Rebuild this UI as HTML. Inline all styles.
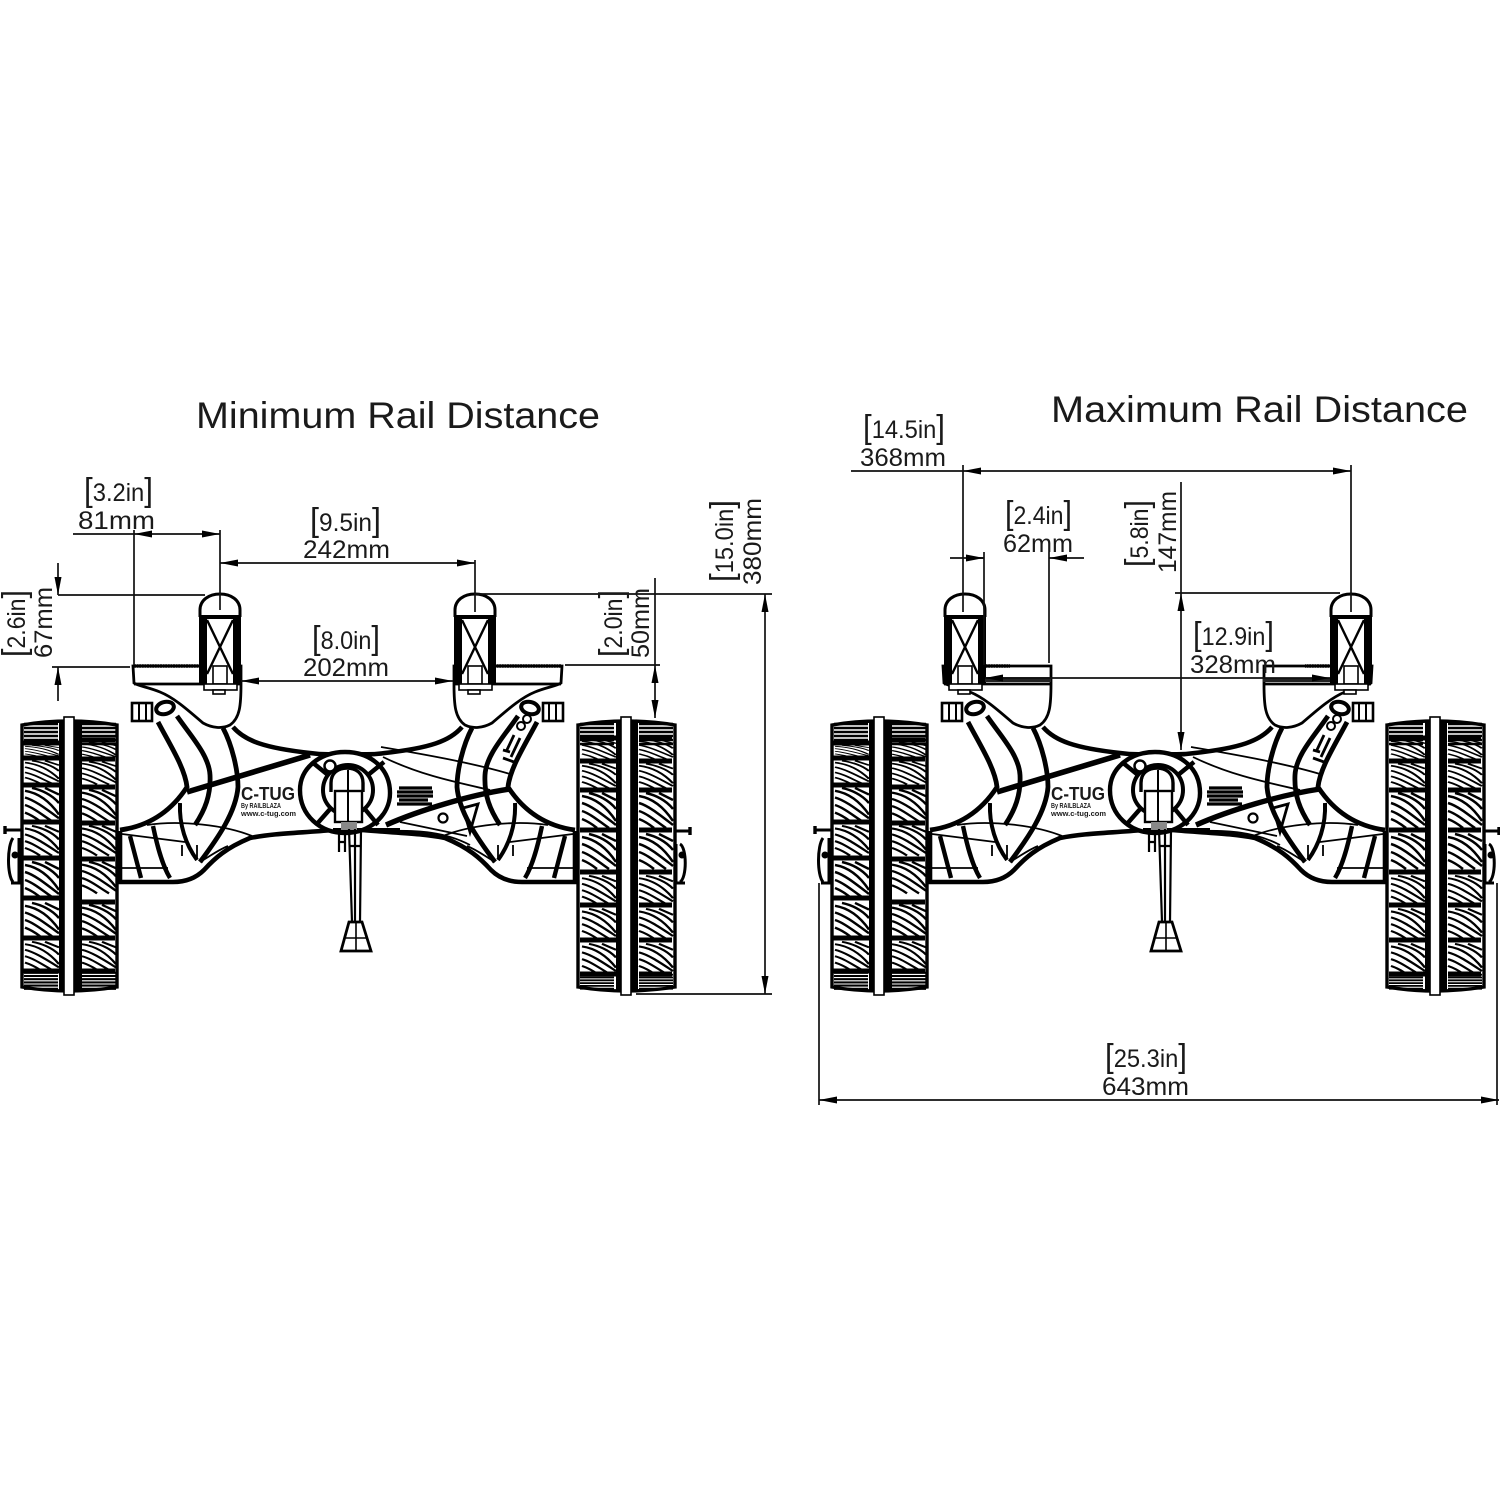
<!DOCTYPE html>
<html>
<head>
<meta charset="utf-8">
<style>
html,body{margin:0;padding:0;background:#fff}
svg{display:block}
text{font-family:"Liberation Sans",sans-serif;fill:#1a1a1a}
.d{font-size:25px}
.b{font-size:33px}
.t{font-size:37px}
.l{stroke:#111;stroke-width:1.7;fill:none}
</style>
</head>
<body>
<svg width="1500" height="1500" viewBox="0 0 1500 1500" xmlns="http://www.w3.org/2000/svg">
<defs>
<marker id="a" markerWidth="18" markerHeight="8" refX="18" refY="4" orient="auto-start-reverse" markerUnits="userSpaceOnUse"><path d="M0 .5L18 4L0 7.5z" fill="#000"/></marker>

<g id="row" fill="none" stroke="#000" stroke-width="2.5">
<path d="M0 4C12 6 24 14 34 29M0 11C10 14 21 23 34 33M0 19C9 22 18 30 27 36M0 27C5 29 10 32 15 36M7 1C16 3 27 8 34 17M20 1L34 8"/>
</g>

<g id="dark" fill="none" stroke="#000" stroke-width="2.6">
<path d="M0 1H34M0 5H34M0 9H34M0 13H34M0 17H34M0 21H34"/>
</g>

<g id="wl">
<path d="M-47 725Q0 717 48 725V987Q0 995-47 987Z" fill="#fff" stroke="#000" stroke-width="3.4"/>
<use href="#dark" transform="translate(-45,723)"/><use href="#dark" transform="translate(13,723)"/>
<use href="#row" transform="translate(-44,745) scale(1,.33)"/><use href="#row" transform="translate(13,742) scale(1,.45)"/>
<use href="#row" transform="translate(-44,760) scale(1,.65)"/><use href="#row" transform="translate(13,761) scale(1,.65)"/>
<use href="#row" transform="translate(-44,787) scale(1,.95)"/><use href="#row" transform="translate(13,789) scale(1,.9)"/>
<use href="#row" transform="translate(-44,825) scale(1,.85)"/><use href="#row" transform="translate(13,825) scale(1,.85)"/>
<use href="#row" transform="translate(-44,861) scale(1,1)"/><use href="#row" transform="translate(13,861) scale(1,.9)"/>
<use href="#row" transform="translate(-44,902) scale(1,.95)"/><use href="#row" transform="translate(13,904) scale(1,.9)"/>
<use href="#row" transform="translate(-44,941) scale(1,.8)"/><use href="#row" transform="translate(13,941) scale(1,.8)"/>
<use href="#dark" transform="translate(-45,972) scale(1,.8)"/><use href="#dark" transform="translate(13,972) scale(1,.8)"/>
<path d="M-46 743H-10M-46 758H-10M-46 785H-10M-46 822H-10M-46 858H-10M-46 898H-10M-46 938H-10M-46 971H-10M13 740H46M13 759H46M13 787H46M13 823H46M13 859H46M13 902H46M13 938H46M13 971H46" stroke="#000" stroke-width="5" fill="none"/>
<rect x="-10" y="722" width="23" height="270" fill="#000"/>
<rect x="-5" y="717" width="10" height="278" fill="#fff" stroke="#000" stroke-width="1.6"/>
<path d="M-64 830H-47M-56 838C-62 846-62 875-56 882M-50 838V883H-58" fill="none" stroke="#000" stroke-width="3"/>
<circle cx="-54" cy="855" r="3.5" fill="#000"/>
<path d="M-64 826V834" stroke="#000" stroke-width="3.4"/>
</g>

<g id="wr">
<path d="M-48 725Q0 717 49 725V987Q0 995-48 987Z" fill="#fff" stroke="#000" stroke-width="3.4"/>
<use href="#dark" transform="translate(-46,723)"/><use href="#dark" transform="translate(13,723)"/>
<use href="#row" transform="translate(-44,739) scale(1,.55)"/><use href="#row" transform="translate(13,739) scale(1,.55)"/>
<use href="#row" transform="translate(-44,763) scale(1,.7)"/><use href="#row" transform="translate(13,763) scale(1,.7)"/>
<use href="#row" transform="translate(-44,792) scale(1,1)"/><use href="#row" transform="translate(13,792) scale(1,1)"/>
<use href="#row" transform="translate(-44,833) scale(1,1)"/><use href="#row" transform="translate(13,833) scale(1,1)"/>
<use href="#row" transform="translate(-44,875) scale(1,.8)"/><use href="#row" transform="translate(13,875) scale(1,.8)"/>
<use href="#row" transform="translate(-44,908) scale(1,.85)"/><use href="#row" transform="translate(13,908) scale(1,.85)"/>
<use href="#row" transform="translate(-44,943) scale(1,.85)"/><use href="#row" transform="translate(13,943) scale(1,.85)"/>
<use href="#dark" transform="translate(-46,974) scale(1,.7)"/><use href="#dark" transform="translate(13,974) scale(1,.7)"/>
<path d="M-46 738H-10M-46 761H-10M-46 790H-10M-46 830H-10M-46 872H-10M-46 905H-10M-46 940H-10M-46 974H-10M13 738H46M13 761H46M13 790H46M13 830H46M13 872H46M13 905H46M13 940H46M13 974H46" stroke="#000" stroke-width="5" fill="none"/>
<rect x="-10" y="722" width="22" height="270" fill="#000"/>
<rect x="-5" y="717" width="10" height="278" fill="#fff" stroke="#000" stroke-width="1.6"/>
<path d="M48 831H64M54 844C61 848 61 878 54 882M50 844V883H59" fill="none" stroke="#000" stroke-width="3"/>
<circle cx="56" cy="855" r="3.5" fill="#000"/>
<path d="M64 827V835" stroke="#000" stroke-width="3.4"/>
</g>

<g id="rail">
<path d="M1 617V610C1 600 10 594 21 594C32 594 41 600 41 610V617" fill="#fff" stroke="#000" stroke-width="3"/>
<rect x="0" y="616" width="42" height="68" fill="#fff"/>
<rect x="0" y="616" width="8" height="68" fill="#000"/>
<rect x="34" y="616" width="8" height="68" fill="#000"/>
<rect x="0" y="615" width="42" height="4" fill="#000"/>
<path d="M8 620L34 674M34 620L8 674" stroke="#000" stroke-width="2.4" fill="none"/>
<rect x="14" y="666" width="14" height="18" fill="#fff" stroke="#000" stroke-width="1.6"/>
<rect x="5" y="684" width="33" height="6" fill="#fff" stroke="#000" stroke-width="1.6"/>
<rect x="14" y="690" width="12" height="4" fill="#fff" stroke="#000" stroke-width="1.6"/>
</g>

<g id="half" fill="none" stroke="#000">
<path d="M133 666H241V684C241 705 240 718 230 725C222 729 212 728 203 723C190 712 175 698 160 692C148 687 138 686 134 683Z" fill="#fff" stroke-width="2.8"/>
<path d="M134 666H200" stroke-width="3.6" stroke-dasharray="2 .6"/>
<path d="M134 684H241" stroke-width="2.8"/>
<rect x="132" y="703" width="20" height="18" fill="#fff" stroke-width="2.6"/>
<path d="M139 703V721M146 703V721" stroke-width="2"/>
<ellipse cx="165" cy="708" rx="9" ry="6" fill="#fff" stroke-width="4" transform="rotate(-15 165 708)"/>
<path d="M233 727C245 741 265 748 310 753C330 756 347 753 347 753" stroke-width="4.6"/>
<path d="M120 831V882H173C186 882 196 878 204 870C215 858 226 848 250 838C275 833 300 833 333 830" stroke-width="4.6"/>
<path d="M120 830C150 826 172 810 187 787C185 768 170 745 158 722" stroke-width="4.8"/>
<path d="M177 716C190 735 209 755 210 775C211 795 205 810 195 825" stroke-width="4.8"/>
<path d="M223 728C232 745 238 770 238 787C236 812 218 838 200 862" stroke-width="4.8"/>
<path d="M180 803C179 825 186 845 197 860" stroke-width="4"/>
<path d="M130 836L141 878M153 826C157 845 162 865 170 878" stroke-width="4.4"/>
<path d="M122 834L185 842M147 825C180 820 225 825 252 836M120 868H168M200 862C212 855 218 850 228 846M182 845V856M197 845V858" stroke-width="1.8"/>
</g>

<g id="cart">
<use href="#half"/>
<use href="#half" transform="matrix(-1 0 0 1 695 0)"/>
<path d="M187 792L310 755" stroke="#000" stroke-width="5.6"/>
<path d="M300 790C300 768 320 752 345 752C370 752 390 768 390 793C390 815 370 833 345 833C320 833 300 815 300 790Z" fill="#fff" stroke="#000" stroke-width="4.4"/>
<circle cx="348" cy="790" r="25" fill="#fff" stroke="#000" stroke-width="4"/>
<path d="M312 762L328 775M316 825L331 808M384 762L368 775M378 825L364 808" stroke="#000" stroke-width="4.4"/>
<path d="M333 830H400" stroke="#000" stroke-width="4"/>
<circle cx="330" cy="766" r="5.5" fill="#fff" stroke="#000" stroke-width="2.5"/>
<path d="M331 792V783C331 773 338 768 347 768C356 768 363 773 363 783V792" fill="#fff" stroke="#000" stroke-width="3.4"/>
<rect x="335" y="791" width="27" height="31" fill="#fff" stroke="#000" stroke-width="2.4"/>
<path d="M348 770V822" stroke="#000" stroke-width="2"/>
<rect x="341" y="822" width="16" height="8" fill="#888"/>
<path d="M349 829L352 922M361 829L360 922M355 829V922M339 830V852M345 830V852M339 842H346M349 846H361" fill="none" stroke="#000" stroke-width="2.2"/>
<path d="M349 922L341 951H371L362 922Z" fill="#fff" stroke="#000" stroke-width="2.8"/>
<path d="M356 922V951M345 938H367" stroke="#000" stroke-width="1.6"/>
<path d="M383 757C420 775 455 782 490 790M381 747C410 752 470 762 510 774M400 822L467 836M383 831C420 830 445 832 470 845" fill="none" stroke="#000" stroke-width="1.8"/>
<path d="M386 825C420 810 470 795 510 789" fill="none" stroke="#000" stroke-width="5.4"/>
<circle cx="443" cy="818" r="4.5" fill="#fff" stroke="#000" stroke-width="2.2"/>
<path d="M463 808L478 804L470 832Z" fill="none" stroke="#000" stroke-width="2.8"/>
<path d="M399 788H432M397 792H433M397 796H433M399 800H428M397 804H432" stroke="#000" stroke-width="3.2"/>
<circle cx="527" cy="719" r="4" fill="none" stroke="#000" stroke-width="2"/>
<circle cx="521" cy="726" r="4" fill="none" stroke="#000" stroke-width="2"/>
<path d="M506 752L514 735M511 757L520 738M503 758L514 762M503 750L510 752" stroke="#000" stroke-width="2.8"/>
</g>
</defs>

<!-- MIN -->
<text class="t" x="196" y="428" textLength="404" lengthAdjust="spacingAndGlyphs">Minimum Rail Distance</text>
<use href="#cart"/>
<use href="#rail" x="199"/>
<use href="#rail" x="454"/>
<use href="#wl" x="69"/>
<use href="#wr" x="626"/>
<text x="241" y="800" font-size="18" font-weight="bold" textLength="54" lengthAdjust="spacingAndGlyphs">C-TUG</text>
<text x="241" y="808" font-size="7" font-weight="bold" textLength="40" lengthAdjust="spacingAndGlyphs">By RAILBLAZA</text>
<text x="241" y="816" font-size="7" font-weight="bold" textLength="55" lengthAdjust="spacingAndGlyphs">www.c-tug.com</text>

<g class="l">
<path d="M73 534H134M134 530V665M220 530V610M475 560V612M58 595H205M52 667H130M565 665H660M655 578V665M475 594H772M636 994H772"/>
<line x1="134" y1="534" x2="220" y2="534" marker-start="url(#a)" marker-end="url(#a)"/>
<line x1="220" y1="563" x2="475" y2="563" marker-start="url(#a)" marker-end="url(#a)"/>
<line x1="241" y1="681" x2="453" y2="681" marker-start="url(#a)" marker-end="url(#a)"/>
<line x1="58" y1="563" x2="58" y2="595" marker-end="url(#a)"/>
<line x1="58" y1="701" x2="58" y2="667" marker-end="url(#a)"/>
<line x1="655" y1="665" x2="655" y2="718" marker-start="url(#a)" marker-end="url(#a)"/>
<line x1="765" y1="594" x2="765" y2="994" marker-start="url(#a)" marker-end="url(#a)"/>
</g>
<text class="d" x="84" y="501" textLength="69" lengthAdjust="spacingAndGlyphs"><tspan class="b">[</tspan>3.2in<tspan class="b">]</tspan></text>
<text class="d" x="78" y="529" textLength="77" lengthAdjust="spacingAndGlyphs">81mm</text>
<text class="d" x="310" y="531" textLength="71" lengthAdjust="spacingAndGlyphs"><tspan class="b">[</tspan>9.5in<tspan class="b">]</tspan></text>
<text class="d" x="303" y="558" textLength="87" lengthAdjust="spacingAndGlyphs">242mm</text>
<text class="d" x="312" y="649" textLength="68" lengthAdjust="spacingAndGlyphs"><tspan class="b">[</tspan>8.0in<tspan class="b">]</tspan></text>
<text class="d" x="303" y="676" textLength="86" lengthAdjust="spacingAndGlyphs">202mm</text>
<text class="d" transform="translate(25,657) rotate(-90)" textLength="67" lengthAdjust="spacingAndGlyphs"><tspan class="b">[</tspan>2.6in<tspan class="b">]</tspan></text>
<text class="d" transform="translate(52,658) rotate(-90)" textLength="71" lengthAdjust="spacingAndGlyphs">67mm</text>
<text class="d" transform="translate(622,657) rotate(-90)" textLength="67" lengthAdjust="spacingAndGlyphs"><tspan class="b">[</tspan>2.0in<tspan class="b">]</tspan></text>
<text class="d" transform="translate(649,658) rotate(-90)" textLength="70" lengthAdjust="spacingAndGlyphs">50mm</text>
<text class="d" transform="translate(733,582) rotate(-90)" textLength="82" lengthAdjust="spacingAndGlyphs"><tspan class="b">[</tspan>15.0in<tspan class="b">]</tspan></text>
<text class="d" transform="translate(761,585) rotate(-90)" textLength="87" lengthAdjust="spacingAndGlyphs">380mm</text>

<!-- MAX -->
<text class="t" x="1051" y="422" textLength="417" lengthAdjust="spacingAndGlyphs">Maximum Rail Distance</text>
<use href="#cart" x="810"/>
<use href="#rail" x="944"/>
<use href="#rail" x="1330"/>
<use href="#wl" x="879"/>
<use href="#wr" x="1435"/>
<rect x="985" y="678" width="66" height="4" fill="#222"/>
<rect x="1263" y="678" width="67" height="4" fill="#222"/>
<text x="1051" y="800" font-size="18" font-weight="bold" textLength="54" lengthAdjust="spacingAndGlyphs">C-TUG</text>
<text x="1051" y="808" font-size="7" font-weight="bold" textLength="40" lengthAdjust="spacingAndGlyphs">By RAILBLAZA</text>
<text x="1051" y="816" font-size="7" font-weight="bold" textLength="55" lengthAdjust="spacingAndGlyphs">www.c-tug.com</text>

<g class="l">
<path d="M851 471H963M963 465V612M1351 465V612M950 558H984M984 552V665M1049 552V663M1068 558H1084M1175 593H1340M1181 482V593M1051 678H985M819 883V1105M1497 883V1105"/>
<line x1="963" y1="471" x2="1351" y2="471" marker-start="url(#a)" marker-end="url(#a)"/>
<line x1="966" y1="558" x2="984" y2="558" marker-end="url(#a)"/>
<line x1="1068" y1="558" x2="1049" y2="558" marker-end="url(#a)"/>
<line x1="1181" y1="593" x2="1181" y2="750" marker-start="url(#a)" marker-end="url(#a)"/>
<line x1="985" y1="678" x2="1330" y2="678" marker-start="url(#a)" marker-end="url(#a)"/>
<line x1="819" y1="1100" x2="1499" y2="1100" marker-start="url(#a)" marker-end="url(#a)"/>
</g>
<text class="d" x="863" y="438" textLength="82" lengthAdjust="spacingAndGlyphs"><tspan class="b">[</tspan>14.5in<tspan class="b">]</tspan></text>
<text class="d" x="860" y="466" textLength="86" lengthAdjust="spacingAndGlyphs">368mm</text>
<text class="d" x="1005" y="524" textLength="67" lengthAdjust="spacingAndGlyphs"><tspan class="b">[</tspan>2.4in<tspan class="b">]</tspan></text>
<text class="d" x="1003" y="552" textLength="70" lengthAdjust="spacingAndGlyphs">62mm</text>
<text class="d" transform="translate(1148,567) rotate(-90)" textLength="67" lengthAdjust="spacingAndGlyphs"><tspan class="b">[</tspan>5.8in<tspan class="b">]</tspan></text>
<text class="d" transform="translate(1176,573) rotate(-90)" textLength="82" lengthAdjust="spacingAndGlyphs">147mm</text>
<text class="d" x="1193" y="645" textLength="81" lengthAdjust="spacingAndGlyphs"><tspan class="b">[</tspan>12.9in<tspan class="b">]</tspan></text>
<text class="d" x="1190" y="673" textLength="86" lengthAdjust="spacingAndGlyphs">328mm</text>
<text class="d" x="1105" y="1067" textLength="82" lengthAdjust="spacingAndGlyphs"><tspan class="b">[</tspan>25.3in<tspan class="b">]</tspan></text>
<text class="d" x="1102" y="1095" textLength="87" lengthAdjust="spacingAndGlyphs">643mm</text>
</svg>
</body>
</html>
